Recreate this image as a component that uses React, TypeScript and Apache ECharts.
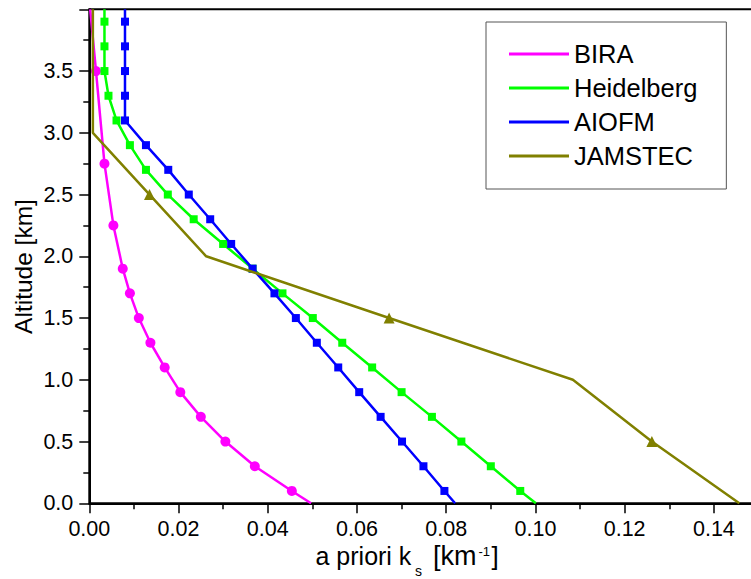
import React, { useEffect, useRef } from "react";
import * as echarts from "echarts";

const FONT = '"Liberation Sans", Arial, Helvetica, sans-serif';

const seriesNames = ["BIRA", "Heidelberg", "AIOFM", "JAMSTEC"];
const seriesColors = ["#ff00ff", "#00ff00", "#0000ff", "#808000"];
const seriesSymbols = ["circle", "rect", "rect", "triangle"];
const seriesSymbolSizes = [10, 8, 8, 11];

// BIRA
const biraAltitude = [0.0, 0.1, 0.3, 0.5, 0.7, 0.9, 1.1, 1.3, 1.5, 1.7, 1.9, 2.25, 2.75, 3.5, 4.0];
const biraKs = [0.0497, 0.0454, 0.0371, 0.0305, 0.025, 0.0204, 0.0169, 0.0137, 0.0111, 0.0091, 0.0075, 0.0054, 0.0034, 0.0015, 0.0002];
const biraMarked = [false, true, true, true, true, true, true, true, true, true, true, true, true, true, false];

// Heidelberg
const heidelbergAltitude = [0.0, 0.1, 0.3, 0.5, 0.7, 0.9, 1.1, 1.3, 1.5, 1.7, 1.9, 2.1, 2.3, 2.5, 2.7, 2.9, 3.1, 3.3, 3.5, 3.7, 3.9, 4.0];
const heidelbergKs = [0.1001, 0.0966, 0.09, 0.0834, 0.0768, 0.07, 0.0634, 0.0567, 0.0501, 0.0433, 0.0366, 0.03, 0.0234, 0.0176, 0.0127, 0.0091, 0.0061, 0.0043, 0.0034, 0.0034, 0.0034, 0.0034];
const heidelbergMarked = [false, true, true, true, true, true, true, true, true, true, true, true, true, true, true, true, true, true, true, true, true, false];

// AIOFM
const aiofmAltitude = [0.0, 0.1, 0.3, 0.5, 0.7, 0.9, 1.1, 1.3, 1.5, 1.7, 1.9, 2.1, 2.3, 2.5, 2.7, 2.9, 3.1, 3.3, 3.5, 3.7, 3.9, 4.0];
const aiofmKs = [0.082, 0.0796, 0.0749, 0.0701, 0.0653, 0.0605, 0.0558, 0.051, 0.0463, 0.0415, 0.0366, 0.0318, 0.0271, 0.0223, 0.0177, 0.0127, 0.008, 0.008, 0.008, 0.008, 0.008, 0.008];
const aiofmMarked = [false, true, true, true, true, true, true, true, true, true, true, true, true, true, true, true, true, true, true, true, true, false];

// JAMSTEC
const jamstecAltitude = [0.0, 0.5, 1.0, 1.5, 2.0, 2.5, 3.0, 4.0];
const jamstecKs = [0.1457, 0.1261, 0.1084, 0.0672, 0.0262, 0.0135, 0.0008, 0.0008];
const jamstecMarked = [false, true, false, true, false, true, false, false];

const xAxisTitleParts = ["a priori k", "s", "[km", "-1", "]"];
const yAxisTitle = "Altitude [km]";

function buildData(ks: number[], alt: number[], marked: boolean[]) {
  return ks.map((x, i) => (marked[i] ? [x, alt[i]] : { value: [x, alt[i]], symbol: "none" }));
}

const allData = [
  buildData(biraKs, biraAltitude, biraMarked),
  buildData(heidelbergKs, heidelbergAltitude, heidelbergMarked),
  buildData(aiofmKs, aiofmAltitude, aiofmMarked),
  buildData(jamstecKs, jamstecAltitude, jamstecMarked),
];

function titleText(text: string, x: number, y: number, size: number) {
  return {
    type: "text",
    x,
    y,
    style: {
      text,
      fontSize: size,
      fontFamily: FONT,
      fill: "#000",
      textAlign: "left",
      textVerticalAlign: "middle",
    },
  };
}

export default function App() {
  const ref = useRef<HTMLDivElement>(null);

  useEffect(() => {
    if (!ref.current) return;
    const chart = echarts.init(ref.current, null, { renderer: "svg" });

    const axisCommon = {
      type: "value" as const,
      axisLine: { show: true, onZero: false, lineStyle: { color: "#000", width: 2 } },
      axisTick: { show: true, inside: false, length: 10, lineStyle: { color: "#000", width: 1.5 } },
      minorTick: { show: true, splitNumber: 2, length: 6, lineStyle: { color: "#000", width: 1.5 } },
      splitLine: { show: false },
      minorSplitLine: { show: false },
    };

    chart.setOption({
      animation: false,
      backgroundColor: "#fff",
      grid: {
        left: 89.3,
        top: 9.3,
        width: 713.8,
        height: 494,
        show: true,
        borderColor: "#000",
        borderWidth: 2,
        backgroundColor: "transparent",
      },
      xAxis: {
        ...axisCommon,
        min: 0,
        max: 0.16,
        interval: 0.02,
        axisLabel: {
          color: "#000",
          fontSize: 21.5,
          fontFamily: FONT,
          margin: 15,
          showMaxLabel: false,
          formatter: (v: number) => v.toFixed(2),
        },
      },
      yAxis: {
        ...axisCommon,
        min: 0,
        max: 4,
        interval: 0.5,
        axisLabel: {
          color: "#000",
          fontSize: 21.5,
          fontFamily: FONT,
          margin: 16,
          showMaxLabel: false,
          formatter: (v: number) => v.toFixed(1),
        },
      },
      legend: {
        show: true,
        orient: "vertical",
        left: 486,
        top: 22,
        padding: [19, 29, 20, 23],
        itemGap: 8,
        itemWidth: 60,
        itemHeight: 3,
        icon: "rect",
        borderColor: "#555",
        borderWidth: 1,
        backgroundColor: "#fff",
        textStyle: { color: "#000", fontSize: 25.5, lineHeight: 24, fontFamily: FONT },
        data: seriesNames,
      },
      series: seriesNames.map((name, i) => ({
        name,
        type: "line",
        data: allData[i],
        color: seriesColors[i],
        symbol: seriesSymbols[i],
        symbolSize: seriesSymbolSizes[i],
        showSymbol: true,
        lineStyle: { color: seriesColors[i], width: 2.5 },
        itemStyle: { color: seriesColors[i] },
        emphasis: { disabled: true },
        z: 2 + i,
      })),
      graphic: [
        {
          type: "text",
          x: 23,
          y: 266.5,
          rotation: Math.PI / 2,
          style: {
            text: yAxisTitle,
            fontSize: 24.5,
            fontFamily: FONT,
            fill: "#000",
            textAlign: "center",
            textVerticalAlign: "middle",
          },
        },
        titleText(xAxisTitleParts[0], 315.5, 555.5, 25),
        titleText(xAxisTitleParts[1], 415, 570.5, 14),
        titleText(xAxisTitleParts[2], 433, 555.5, 27),
        titleText(xAxisTitleParts[3], 478.5, 551, 13),
        titleText(xAxisTitleParts[4], 491.5, 555.5, 26),
      ],
    });

    return () => chart.dispose();
  }, []);

  return (
    <div style={{ position: "absolute", left: 0, top: 0, width: 751, height: 579, overflow: "hidden", background: "#fff" }}>
      <div ref={ref} style={{ width: 820, height: 579 }} />
    </div>
  );
}
